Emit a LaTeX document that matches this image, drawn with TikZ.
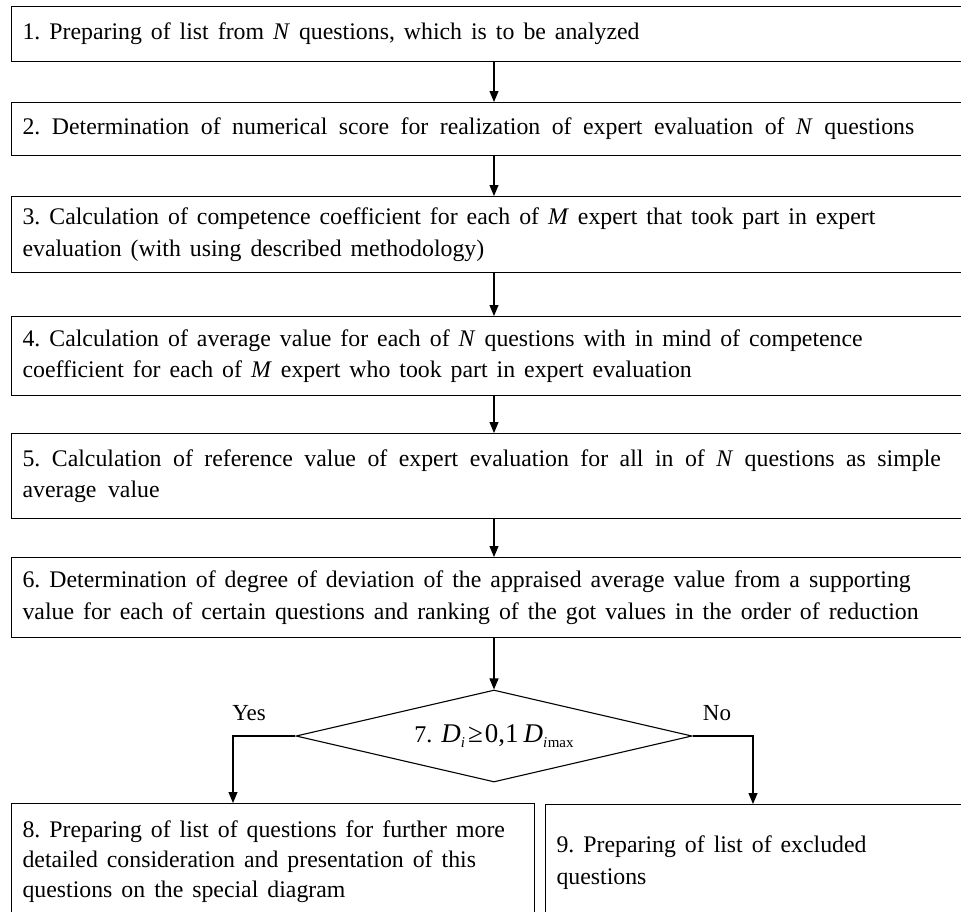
\documentclass[tikz,border=0pt]{standalone}
\usepackage{fontspec}
\setmainfont{Liberation Serif}
\usetikzlibrary{shapes.geometric,arrows.meta,calc}
\begin{document}
\begin{tikzpicture}[x=1pt,y=-1pt,
  box/.style={draw, line width=1.1pt, anchor=north west, inner xsep=11pt, inner ysep=0pt,
    align=left, font=\fontsize{23.8}{31.5}\selectfont,
    execute at begin node={\frenchspacing\spaceskip=9pt plus 2pt minus 1pt\relax}},
  widesp/.style={execute at begin node={\frenchspacing\spaceskip=11.5pt plus 2pt minus 1pt\relax}},
  wide/.style={minimum width=954pt, text width=932pt},
  arr/.style={draw, line width=1.1pt, -{Triangle[length=11pt,width=9pt]}},
  lbl/.style={font=\fontsize{23}{26}\selectfont},
  decision/.style={draw, line width=1.1pt, diamond, aspect=4.3, inner sep=0pt,
    minimum width=396pt, minimum height=92pt}]
\useasboundingbox (0,0) rectangle (961,911);
\clip (0,0) rectangle (961,911);
\coordinate (ax) at (494,0);
\coordinate (yx) at (233,0);
\coordinate (nx) at (753,0);

\node[box, wide, minimum height=55pt] (b1) at (11,6)
  {1. Preparing of list from \textit{N} questions, which is to be analyzed};
\node[box, wide, widesp, minimum height=53pt] (b2) at (11,102)
  {2. Determination of numerical score for realization of expert evaluation of \textit{N} questions};
\node[box, wide, minimum height=76pt] (b3) at (11,196)
  {3. Calculation of competence coefficient for each of \textit{M} expert that took part in expert\\evaluation (with using described methodology)};
\node[box, wide, minimum height=79pt] (b4) at (11,316)
  {4. Calculation of average value for each of \textit{N} questions with in mind of competence\\coefficient for each of \textit{M} expert who took part in expert evaluation};
\node[box, wide, widesp, minimum height=85pt] (b5) at (11,433)
  {5. Calculation of reference value of expert evaluation for all in of \textit{N} questions as simple\\average value};
\node[box, wide, minimum height=80pt] (b6) at (11,557)
  {6. Determination of degree of deviation of the appraised average value from a supporting\\value for each of certain questions and ranking of the got values in the order of reduction};

\node[decision] (d7) at (494,736)
  {\fontsize{24}{26}\selectfont 7.\hspace{9pt}\fontsize{27}{28}\selectfont\textit{D}\raisebox{-0.35ex}{\fontsize{15}{16}\selectfont\textit{i}}\hspace{3pt}≥\hspace{2pt}0,1\hspace{5pt}\textit{D}\raisebox{-0.35ex}{\fontsize{15}{16}\selectfont\textit{i}\hspace{0.5pt}max}};

\node[box, minimum width=523pt, text width=501pt, minimum height=117pt,
  font=\fontsize{23.8}{30}\selectfont] (b8) at (11,803)
  {8. Preparing of list of questions for further more\\detailed consideration and presentation of this\\questions on the special diagram};
\node[box, minimum width=420pt, text width=398pt, minimum height=116pt,
  font=\fontsize{23.8}{32}\selectfont] (b9) at (545,804)
  {9. Preparing of list of excluded\\questions\\[34pt]};

\draw[arr] (b1.south -| ax) -- (b2.north -| ax);
\draw[arr] (b2.south -| ax) -- (b3.north -| ax);
\draw[arr] (b3.south -| ax) -- (b4.north -| ax);
\draw[arr] (b4.south -| ax) -- (b5.north -| ax);
\draw[arr] (b5.south -| ax) -- (b6.north -| ax);
\draw[arr] (b6.south -| ax) -- (d7.north);
\draw[arr] (d7.west) -| (yx |- b8.north);
\draw[arr] (d7.east) -| (nx |- b9.north);

\node[lbl] (yes) at (249,713) {Yes};
\node[lbl] (no) at (717,713) {No};
\end{tikzpicture}
\end{document}
